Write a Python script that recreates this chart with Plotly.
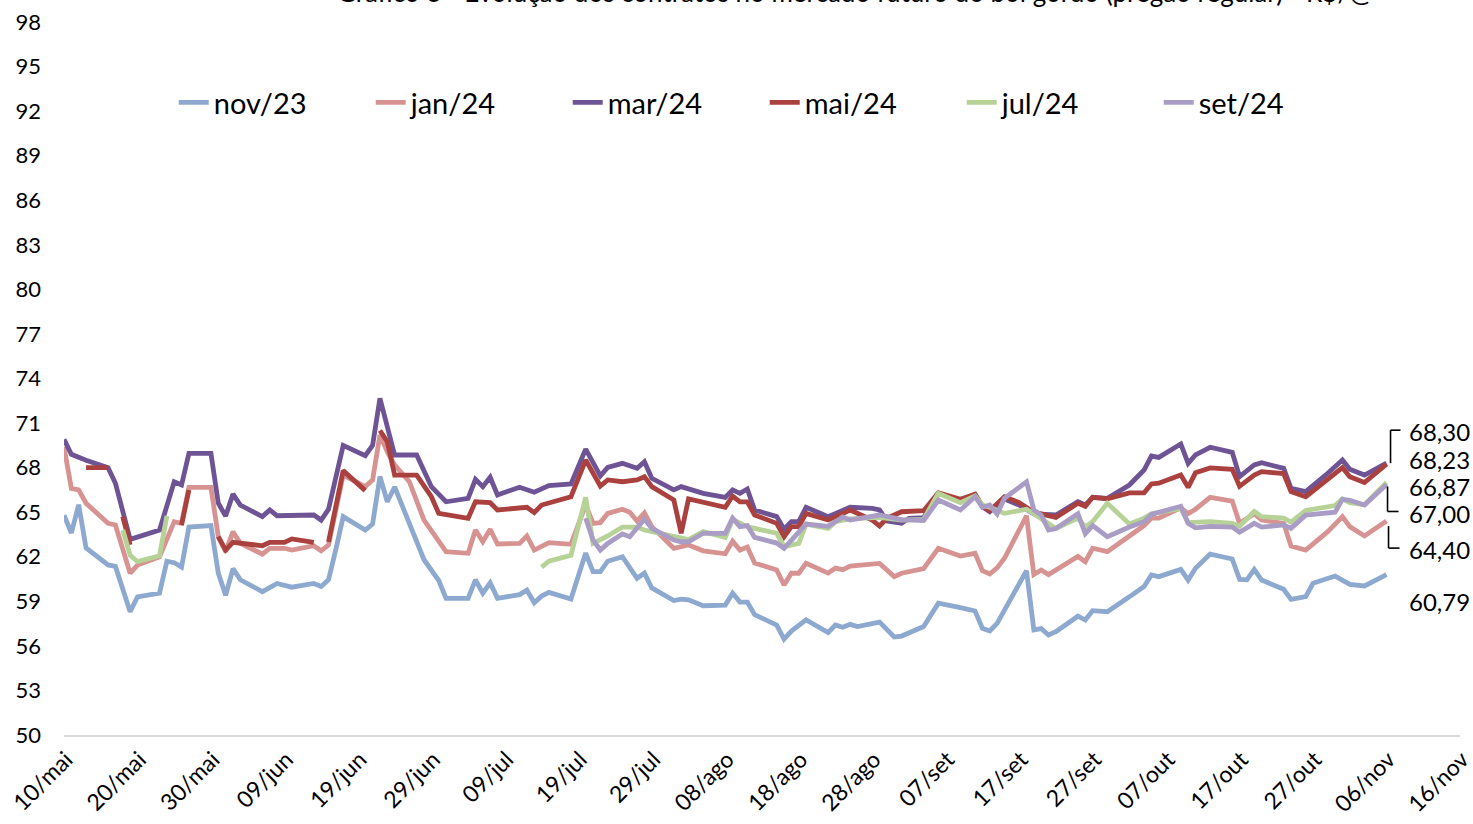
import datetime as dt
import plotly.graph_objects as go

YEAR = 2024

# ---- series: contract, trading dates (dd/mm) and settlement prices (R$/@) ----
nov23_dates = ["10/05", "11/05", "12/05", "13/05", "16/05", "17/05", "19/05", "20/05", "23/05", "24/05",
               "25/05", "26/05", "27/05", "30/05", "31/05", "01/06", "02/06", "03/06", "06/06", "07/06",
               "08/06", "10/06", "13/06", "14/06", "15/06", "16/06", "17/06", "20/06", "21/06", "22/06",
               "23/06", "24/06", "26/06", "28/06", "30/06", "01/07", "04/07", "05/07", "06/07", "07/07",
               "08/07", "11/07", "12/07", "13/07", "14/07", "15/07", "18/07", "20/07", "21/07", "22/07",
               "23/07", "25/07", "27/07", "28/07", "29/07", "01/08", "02/08", "03/08", "05/08", "08/08",
               "09/08", "10/08", "11/08", "12/08", "15/08", "16/08", "17/08", "19/08", "22/08", "23/08",
               "24/08", "25/08", "26/08", "29/08", "31/08", "01/09", "04/09", "06/09", "09/09", "11/09",
               "12/09", "13/09", "14/09", "18/09", "19/09", "20/09", "21/09", "22/09", "25/09", "26/09",
               "27/09", "29/09", "02/10", "04/10", "05/10", "06/10", "09/10", "10/10", "11/10", "13/10",
               "16/10", "17/10", "18/10", "19/10", "20/10", "23/10", "24/10", "26/10", "27/10", "30/10",
               "01/11", "03/11", "06/11"]
nov23_vals = [64.8, 63.6, 65.5, 62.6, 61.45, 61.35, 58.3, 59.3, 59.55, 61.7,
              61.6, 61.3, 64.0, 64.1, 60.9, 59.4, 61.2, 60.45, 59.65, 59.9,
              60.2, 59.95, 60.2, 60.0, 60.45, 62.5, 64.7, 63.8, 64.2, 67.4,
              65.7, 66.7, 64.3, 61.8, 60.4, 59.2, 59.2, 60.45, 59.55, 60.25,
              59.2, 59.45, 59.75, 58.9, 59.35, 59.6, 59.15, 62.25, 61.0, 61.0,
              61.7, 62.0, 60.55, 60.9, 59.9, 59.05, 59.15, 59.1, 58.7, 58.75,
              59.55, 58.95, 58.95, 58.1, 57.4, 56.45, 57.0, 57.75, 56.9, 57.4,
              57.25, 57.45, 57.3, 57.6, 56.6, 56.66, 57.3, 58.87, 58.57, 58.35,
              57.18, 57.0, 57.52, 61.06, 57.07, 57.16, 56.73, 56.95, 58.0, 57.74,
              58.37, 58.3, 59.3, 60.0, 60.77, 60.66, 61.15, 60.43, 61.22, 62.18,
              61.85, 60.48, 60.45, 61.15, 60.43, 59.81, 59.13, 59.31, 60.21, 60.7,
              60.14, 60.03, 60.79]

jan24_dates = ["10/05", "11/05", "12/05", "13/05", "16/05", "17/05", "19/05", "20/05", "23/05", "25/05",
               "26/05", "27/05", "30/05", "31/05", "01/06", "02/06", "03/06", "06/06", "07/06", "09/06",
               "10/06", "13/06", "14/06", "15/06", "17/06", "20/06", "21/06", "22/06", "23/06", "24/06",
               "26/06", "28/06", "01/07", "04/07", "05/07", "06/07", "07/07", "08/07", "11/07", "12/07",
               "13/07", "15/07", "18/07", "20/07", "21/07", "22/07", "23/07", "25/07", "26/07", "27/07",
               "28/07", "29/07", "01/08", "02/08", "03/08", "05/08", "08/08", "09/08", "10/08", "11/08",
               "12/08", "15/08", "16/08", "17/08", "18/08", "19/08", "22/08", "23/08", "24/08", "25/08",
               "29/08", "31/08", "01/09", "04/09", "06/09", "09/09", "11/09", "12/09", "13/09", "14/09",
               "15/09", "18/09", "19/09", "20/09", "21/09", "25/09", "26/09", "27/09", "29/09", "02/10",
               "04/10", "05/10", "06/10", "09/10", "10/10", "11/10", "13/10", "16/10", "17/10", "19/10",
               "20/10", "23/10", "24/10", "26/10", "29/10", "31/10", "01/11", "03/11", "06/11"]
jan24_vals = [69.4, 66.6, 66.5, 65.6, 64.25, 64.14, 60.89, 61.44, 62.0, 64.36,
              64.25, 66.67, 66.67, 63.35, 62.34, 63.69, 62.9, 62.18, 62.57, 62.57,
              62.45, 62.74, 62.4, 62.79, 67.5, 66.72, 67.17, 70.2, 69.07, 68.18,
              67.05, 64.47, 62.34, 62.23, 63.8, 63.01, 63.85, 62.86, 62.9, 63.4,
              62.45, 62.95, 62.84, 65.5, 64.25, 64.3, 64.92, 65.2, 65.0, 64.4,
              64.95, 64.03, 62.57, 62.68, 62.79, 62.4, 62.2, 63.05, 62.45, 62.65,
              61.58, 61.11, 60.1, 60.89, 60.89, 61.56, 60.9, 61.24, 61.13, 61.37,
              61.55, 60.66, 60.89, 61.2, 62.57, 62.05, 62.23, 61.06, 60.84, 61.25,
              61.9, 64.75, 60.8, 61.11, 60.8, 62.02, 61.67, 62.57, 62.34, 63.4,
              64.1, 64.6, 64.6, 65.3, 64.9, 65.2, 66.0, 65.75, 64.25, 64.9,
              64.47, 64.25, 62.72, 62.45, 63.69, 64.7, 64.03, 63.4, 64.4]

mar24_dates = ["10/05", "11/05", "13/05", "16/05", "17/05", "18/05", "19/05", "23/05", "25/05", "26/05",
               "27/05", "30/05", "31/05", "01/06", "02/06", "03/06", "06/06", "07/06", "08/06", "13/06",
               "14/06", "15/06", "17/06", "20/06", "21/06", "22/06", "23/06", "24/06", "27/06", "29/06",
               "01/07", "04/07", "05/07", "06/07", "07/07", "08/07", "11/07", "13/07", "15/07", "18/07",
               "20/07", "22/07", "23/07", "25/07", "27/07", "28/07", "29/07", "01/08", "02/08", "03/08",
               "05/08", "08/08", "09/08", "10/08", "11/08", "12/08", "15/08", "16/08", "17/08", "18/08",
               "19/08", "22/08", "25/08", "28/08", "29/08", "30/08", "01/09", "02/09", "04/09", "06/09",
               "09/09", "11/09", "12/09", "13/09", "15/09", "17/09", "19/09", "22/09", "24/09", "25/09",
               "26/09", "27/09", "29/09", "02/10", "04/10", "05/10", "06/10", "09/10", "10/10", "11/10",
               "13/10", "16/10", "17/10", "19/10", "20/10", "23/10", "24/10", "26/10", "29/10", "31/10",
               "01/11", "03/11", "06/11"]
mar24_vals = [69.9, 68.9, 68.5, 68.0, 66.95, 65.15, 63.17, 63.8, 67.05, 66.83,
              68.96, 68.96, 65.6, 64.74, 66.22, 65.48, 64.7, 65.15, 64.76, 64.81,
              64.47, 65.2, 69.5, 68.8, 69.5, 72.67, 70.75, 68.85, 68.85, 66.72,
              65.7, 65.93, 67.21, 66.72, 67.35, 66.16, 66.68, 66.34, 66.79, 66.9,
              69.25, 67.45, 68.02, 68.29, 67.95, 68.4, 67.28, 66.5, 66.72, 66.56,
              66.27, 66.0, 66.5, 66.27, 66.56, 65.15, 64.7, 63.85, 64.36, 64.36,
              65.33, 64.7, 65.33, 65.26, 65.15, 64.41, 64.25, 64.59, 64.63, 66.27,
              65.82, 66.16, 65.37, 65.03, 65.89, 65.48, 64.88, 64.81, 65.42, 65.7,
              65.48, 66.0, 65.93, 66.83, 67.84, 68.78, 68.69, 69.59, 68.29, 68.85,
              69.37, 69.03, 67.39, 68.18, 68.33, 67.95, 66.61, 66.38, 67.62, 68.51,
              67.89, 67.5, 68.3]

# None marks days without a quote (the line breaks there)
mai24_dates = ["13/05", "16/05", "17/05", "18/05", "19/05", "20/05", "26/05", "27/05", "28/05", "31/05",
               "01/06", "02/06", "06/06", "07/06", "09/06", "10/06", "13/06", "14/06", "15/06", "17/06",
               "20/06", "21/06", "22/06", "23/06", "24/06", "27/06", "29/06", "30/06", "04/07", "05/07",
               "07/07", "08/07", "12/07", "13/07", "14/07", "18/07", "20/07", "22/07", "23/07", "25/07",
               "27/07", "28/07", "29/07", "01/08", "02/08", "03/08", "08/08", "09/08", "10/08", "11/08",
               "12/08", "15/08", "16/08", "17/08", "18/08", "19/08", "22/08", "25/08", "28/08", "29/08",
               "30/08", "01/09", "04/09", "06/09", "09/09", "11/09", "12/09", "13/09", "15/09", "17/09",
               "19/09", "22/09", "25/09", "26/09", "27/09", "29/09", "02/10", "04/10", "05/10", "06/10",
               "09/10", "10/10", "11/10", "13/10", "16/10", "17/10", "19/10", "20/10", "23/10", "24/10",
               "26/10", "29/10", "31/10", "01/11", "03/11", "06/11"]
mai24_vals = [68.0, 68.0, None, 64.7, 62.8, None, 64.14, 66.5, None, 63.35,
              62.45, 62.97, 62.74, 62.97, 62.97, 63.2, 62.97, None, 63.0, 67.8,
              66.45, None, 70.5, 69.75, 67.5, 67.5, 66.04, 64.92, 64.59, 65.7,
              65.64, 65.15, 65.33, 64.97, 65.48, 66.04, 68.51, 66.76, 67.17, 67.05,
              67.17, 67.39, 66.72, 65.82, 63.58, 65.9, 65.33, 66.09, 65.7, 65.7,
              64.81, 64.25, 63.35, 64.03, 64.03, 64.92, 64.47, 65.15, 64.47, 64.07,
              64.59, 65.03, 65.1, 66.31, 65.87, 66.22, 65.42, 65.1, 66.04, 65.64,
              65.0, 64.65, 65.6, 65.4, 66.0, 65.9, 66.3, 66.3, 66.9, 66.95,
              67.5, 66.67, 67.65, 67.98, 67.89, 66.74, 67.5, 67.73, 67.6, 66.38,
              66.04, 67.17, 68.0, 67.39, 67.0, 68.23]

jul24_dates = ["18/05", "19/05", "20/05", "23/05", "24/05", "25/05", "14/07", "15/07", "18/07", "20/07",
               "21/07", "23/07", "25/07", "27/07", "28/07", "01/08", "03/08", "05/08", "08/08", "09/08",
               "11/08", "12/08", "15/08", "16/08", "18/08", "19/08", "22/08", "23/08", "25/08", "29/08",
               "01/09", "04/09", "06/09", "09/09", "11/09", "12/09", "13/09", "15/09", "18/09", "19/09",
               "22/09", "25/09", "26/09", "27/09", "29/09", "02/10", "04/10", "05/10", "09/10", "10/10",
               "13/10", "16/10", "17/10", "19/10", "20/10", "23/10", "24/10", "26/10", "30/10", "31/10",
               "01/11", "03/11", "06/11"]
jul24_vals = [63.8, 62.1, 61.67, 62.07, 64.74, None, 61.3, 61.7, 62.1, 66.0,
              62.9, 63.4, 64.0, 64.0, 63.8, 63.35, 63.15, 63.69, 63.3, 64.5,
              64.03, 63.91, 63.58, 62.68, 62.9, 64.2, 63.91, 64.36, 64.55, 64.65,
              64.47, 64.52, 66.27, 65.64, 66.09, 65.48, 65.33, 64.92, 65.2, 64.9,
              63.9, 64.6, 64.0, 64.36, 65.6, 64.2, 64.6, 64.9, 65.26, 64.3,
              64.36, 64.25, 64.05, 65.05, 64.7, 64.6, 64.33, 65.12, 65.45, 65.9,
              65.64, 65.5, 67.0]

set24_dates = ["20/07", "21/07", "22/07", "23/07", "25/07", "26/07", "28/07", "29/07", "01/08", "02/08",
               "03/08", "05/08", "08/08", "09/08", "10/08", "11/08", "12/08", "15/08", "16/08", "19/08",
               "22/08", "24/08", "25/08", "29/08", "01/09", "04/09", "06/09", "09/09", "11/09", "12/09",
               "13/09", "14/09", "15/09", "18/09", "19/09", "20/09", "21/09", "22/09", "25/09", "26/09",
               "27/09", "29/09", "02/10", "04/10", "05/10", "09/10", "10/10", "11/10", "13/10", "16/10",
               "17/10", "19/10", "20/10", "23/10", "24/10", "26/10", "30/10", "31/10", "01/11", "03/11",
               "06/11"]
set24_vals = [64.59, 63.13, 62.45, 62.9, 63.53, 63.35, 64.52, 63.91, 63.13, 63.01,
              63.01, 63.58, 63.58, 64.6, 64.03, 64.1, 63.3, 62.92, 62.57, 64.2,
              64.05, 64.68, 64.47, 64.81, 64.5, 64.43, 65.82, 65.15, 66.04, 65.33,
              65.48, 64.88, 65.93, 67.05, 65.15, 64.81, 63.8, 63.9, 64.9, 63.55,
              64.1, 63.35, 64.0, 64.36, 64.85, 65.4, 64.25, 63.95, 64.05, 64.0,
              63.65, 64.25, 64.0, 64.14, 63.91, 64.8, 65.0, 65.87, 65.8, 65.48,
              66.87]

SERIES = [
    ("nov/23", nov23_dates, nov23_vals, "#8EA9CF"),
    ("jan/24", jan24_dates, jan24_vals, "#D69391"),
    ("mar/24", mar24_dates, mar24_vals, "#6E5494"),
    ("mai/24", mai24_dates, mai24_vals, "#AA413E"),
    ("jul/24", jul24_dates, jul24_vals, "#B7D297"),
    ("set/24", set24_dates, set24_vals, "#A99CC5"),
]

# x-axis: one tick every 10 days
tick_dates = ["10/05", "20/05", "30/05", "09/06", "19/06", "29/06", "09/07", "19/07", "29/07", "08/08",
              "18/08", "28/08", "07/09", "17/09", "27/09", "07/10", "17/10", "27/10", "06/11", "16/11"]
tick_labels = ["10/mai", "20/mai", "30/mai", "09/jun", "19/jun", "29/jun", "09/jul", "19/jul", "29/jul",
               "08/ago", "18/ago", "28/ago", "07/set", "17/set", "27/set", "07/out", "17/out", "27/out",
               "06/nov", "16/nov"]

# end-of-period labels: text and vertical pixel offset of the label from the last point
end_labels = {
    "mar/24": ("68,30", -32),
    "mai/24": ("68,23", -5),
    "set/24": ("66,87", 2),
    "jul/24": ("67,00", 31),
    "jan/24": ("64,40", 28),
    "nov/23": ("60,79", 27),
}
# elbow leader lines: (series, vertical start offset, vertical end offset, x of vertical, x end) in px
leaders = [
    ("mar/24", 0, -33, 4, 14),
    ("jul/24", 4, 29, 1, 12),
    ("jan/24", 5, 27, 2, 13),
]

FONT = "Lato, 'Open Sans', sans-serif"


def to_date(s):
    return dt.datetime(YEAR, int(s[3:5]), int(s[0:2]))


fig = go.Figure()
for name, dates, vals, color in SERIES:
    fig.add_trace(go.Scatter(
        x=[to_date(d) for d in dates], y=vals, name=name, mode="lines",
        line=dict(color=color, width=4.8), connectgaps=False,
    ))

annotations = []
shapes = []
last_point = {name: (to_date(dates[-1]), vals[-1]) for name, dates, vals, _ in SERIES}
for name, (text, dy) in end_labels.items():
    xd, yv = last_point[name]
    annotations.append(dict(
        x=xd, y=yv, xref="x", yref="y", text=text, showarrow=False,
        xanchor="left", yanchor="middle", xshift=20, yshift=-dy,
        font=dict(family=FONT, size=24, color="#000000"),
    ))
for name, ys0, ys1, xv, xe in leaders:
    xd, yv = last_point[name]
    common = dict(xref="x", yref="y", xsizemode="pixel", ysizemode="pixel",
                  xanchor=xd, yanchor=yv, line=dict(color="#000000", width=1.6))
    shapes.append(dict(type="line", x0=xv, x1=xv, y0=-ys0, y1=-ys1, **common))
    shapes.append(dict(type="line", x0=xv, x1=xe, y0=-ys1, y1=-ys1, **common))

# chart title (runs off the top edge of the canvas)
annotations.append(dict(
    x=0.566, y=1, xref="paper", yref="paper", yanchor="bottom", yshift=12,
    text="Gráfico 3 - Evolução dos contratos no mercado futuro do boi gordo (pregão regular) - R$/@",
    showarrow=False, font=dict(family=FONT, size=26, color="#000000"),
))

fig.update_layout(
    template="none",
    width=1473, height=824,
    margin=dict(l=64, r=13, t=22, b=89, autoexpand=False),
    paper_bgcolor="white", plot_bgcolor="white",
    font=dict(family=FONT, size=22, color="#000000"),
    showlegend=True,
    legend=dict(orientation="h", x=0.0786, y=0.887, xanchor="left", yanchor="middle",
                font=dict(family=FONT, size=29, color="#000000"),
                bgcolor="rgba(0,0,0,0)", borderwidth=0,
                entrywidth=152, entrywidthmode="pixels"),
    annotations=annotations,
    shapes=shapes,
)
fig.update_xaxes(
    type="date", automargin=False,
    range=[to_date(tick_dates[0]), to_date(tick_dates[-1])],
    tickvals=[to_date(d) for d in tick_dates], ticktext=tick_labels,
    tickangle=-45, ticklabeloverflow="allow", ticklabelshift=2,
    showgrid=False, zeroline=False,
    showline=True, linecolor="#D9D9D9", linewidth=2,
    ticks="", tickfont=dict(family=FONT, size=23, color="#000000"),
)
fig.update_yaxes(
    automargin=False,
    range=[50, 98], tick0=50, dtick=3, showgrid=False, zeroline=False,
    showline=False, ticks="", ticklabelstandoff=22,
    tickfont=dict(family=FONT, size=22, color="#000000"),
)

fig.write_html("out.html")
